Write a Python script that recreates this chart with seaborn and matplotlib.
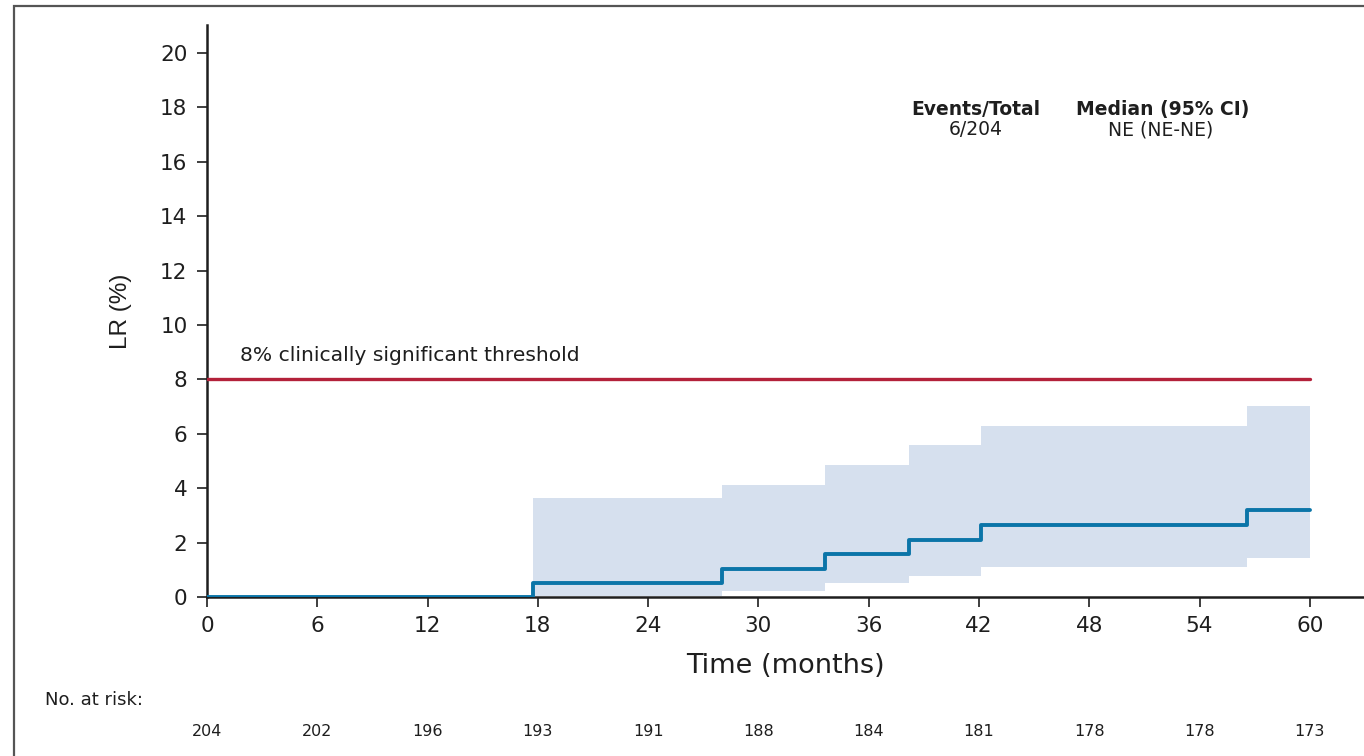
import numpy as np
import pandas as pd
import matplotlib
matplotlib.use("Agg")
import matplotlib.pyplot as plt
import seaborn as sns
from matplotlib.patches import Rectangle

# cumulative incidence of local recurrence
step_times = [0, 17.75, 28.0, 33.6, 38.2, 42.1, 56.6, 60]
lr_pct = [0, 0.50, 1.02, 1.57, 2.10, 2.65, 3.20, 3.20]

band_times = [17.75, 28.0, 33.6, 38.2, 42.1, 56.6, 60]
ci_upper = [3.65, 4.12, 4.84, 5.57, 6.30, 7.03, 7.03]
ci_lower = [0.05, 0.23, 0.50, 0.78, 1.10, 1.45, 1.45]

threshold = 8
threshold_label = "8% clinically significant threshold"

x_ticks = [0, 6, 12, 18, 24, 30, 36, 42, 48, 54, 60]
y_ticks = [0, 2, 4, 6, 8, 10, 12, 14, 16, 18, 20]
at_risk = [204, 202, 196, 193, 191, 188, 184, 181, 178, 178, 173]

events_total = "6/204"
median_ci = "NE (NE-NE)"

sns.set_style("ticks")
plt.rcParams['font.family'] = ['DejaVu Sans']
tall = ['Liberation Sans', 'DejaVu Sans']

fig = plt.figure(figsize=(13.64, 7.56), dpi=100)
W, H = 1364, 756
ax = fig.add_axes([207 / W, 1 - 597 / H, 1 - 207 / W, (597 - 25) / H])

# frame around the figure
fig.patches.append(Rectangle((14 / W, -0.05), 1.1, 1 - 6 / H + 0.05,
                             transform=fig.transFigure, fill=False,
                             edgecolor="#555555", linewidth=1.6))

blue = "#0b75a8"
red = "#b3213a"
band = "#d6e0ee"
ink = "#1e1e1e"

ax.fill_between(band_times, ci_lower, ci_upper, step="post",
                color=band, linewidth=0, zorder=1)
ax.plot([0, 60], [threshold, threshold], color=red, linewidth=2.4, zorder=3)

df = pd.DataFrame({"time": step_times, "lr": lr_pct})
sns.lineplot(data=df, x="time", y="lr", ax=ax, color=blue, linewidth=2.8,
             drawstyle="steps-post", zorder=4)

ax.text(1.8, (597 - 361) / 27.2, threshold_label, fontsize=14.6, color=ink,
        ha="left", va="baseline")

ax.set_xlim(0, (W - 207) / 18.38)
ax.set_ylim(0, (597 - 25) / 27.2)
ax.set_xticks(x_ticks)
ax.set_yticks(y_ticks)
ax.tick_params(axis="both", labelsize=15.5, length=7, width=1.2,
               color=ink, labelcolor=ink, pad=7)
for side in ["top", "right"]:
    ax.spines[side].set_visible(False)
for side in ["left", "bottom"]:
    ax.spines[side].set_linewidth(1.8)
    ax.spines[side].set_color(ink)

ax.set_xlabel("Time (months)", fontsize=19.5, labelpad=12, color=ink)
ax.set_ylabel("LR (%)", fontsize=17.5, family=tall, labelpad=20, color=ink)

# legend table
ax.text(41.85, 17.94, "Events/Total", fontsize=13.5, fontweight="bold",
        ha="center", va="center", color=ink)
ax.text(41.8, 17.17, events_total, fontsize=13.5, ha="center", va="center",
        color=ink)
ax.text(52.0, 17.94, "Median (95% CI)", fontsize=13.5, fontweight="bold",
        ha="center", va="center", color=ink)
ax.text(51.9, 17.17, median_ci, fontsize=13.5, ha="center", va="center",
        color=ink)

# number at risk table
fig.text(45 / W, 1 - 700 / H, "No. at risk:", fontsize=13, ha="left",
         va="center", color=ink)
for t, n in zip(x_ticks, at_risk):
    ax.text(t, -1 * (732 - 597) / 27.2, str(n), fontsize=11.5, ha="center",
            va="center", color=ink, clip_on=False)

fig.savefig("out.png", dpi=100)
